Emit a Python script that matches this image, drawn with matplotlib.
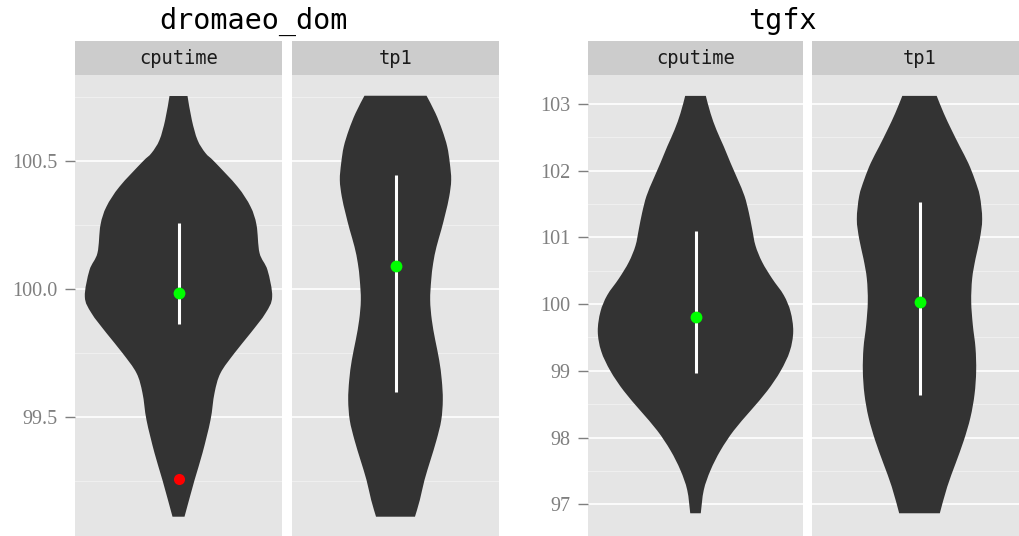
import matplotlib
matplotlib.use("Agg")
import matplotlib.pyplot as plt
from matplotlib.path import Path
from matplotlib.patches import PathPatch
import numpy as np

# ---------------- data ----------------
group_titles = ["dromaeo_dom", "tgfx"]
metric_names = ["cputime", "tp1"]

# violin outlines: y value and half width (fraction of half panel width)
dom_cpu_y = [100.755, 100.661, 100.583, 100.532, 100.498, 100.401, 100.323, 100.251,
             100.142, 100.075, 99.971, 99.907, 99.829, 99.751, 99.673, 99.595,
             99.489, 99.361, 99.255, 99.112]
dom_cpu_w = [0.087, 0.129, 0.184, 0.261, 0.348, 0.570, 0.696, 0.754,
             0.783, 0.860, 0.905, 0.841, 0.696, 0.541, 0.406, 0.348,
             0.309, 0.232, 0.155, 0.058]

dom_tp1_y = [100.756, 100.688, 100.622, 100.557, 100.492, 100.427, 100.362, 100.297,
             100.232, 100.166, 100.102, 100.036, 99.958, 99.880, 99.802, 99.724,
             99.646, 99.568, 99.489, 99.411, 99.333, 99.255, 99.177, 99.112]
dom_tp1_w = [0.300, 0.386, 0.451, 0.500, 0.525, 0.538, 0.519, 0.483,
             0.442, 0.396, 0.364, 0.345, 0.335, 0.351, 0.384, 0.422,
             0.447, 0.457, 0.442, 0.396, 0.338, 0.280, 0.235, 0.188]

tgfx_cpu_y = [103.119, 102.858, 102.610, 102.361, 102.115, 101.867, 101.619, 101.372,
              101.124, 100.876, 100.630, 100.382, 100.134, 99.887, 99.590, 99.293,
              98.996, 98.699, 98.402, 98.105, 97.808, 97.511, 97.214, 96.866]
tgfx_cpu_w = [0.096, 0.140, 0.195, 0.263, 0.326, 0.393, 0.456, 0.496,
              0.527, 0.558, 0.620, 0.713, 0.821, 0.884, 0.909, 0.877,
              0.791, 0.667, 0.512, 0.356, 0.233, 0.140, 0.077, 0.049]

tgfx_tp1_y = [103.119, 102.858, 102.610, 102.361, 102.115, 101.867, 101.619, 101.273,
              100.976, 100.679, 100.382, 100.036, 99.688, 99.342, 98.996, 98.648,
              98.302, 97.956, 97.609, 97.263, 96.866]
tgfx_tp1_w = [0.160, 0.226, 0.298, 0.375, 0.453, 0.514, 0.561, 0.583,
              0.561, 0.521, 0.490, 0.481, 0.496, 0.521, 0.527, 0.512,
              0.474, 0.412, 0.335, 0.258, 0.189]

# interval (low, high) and mean per panel
dom_cpu_interval = [99.864, 100.258]
dom_cpu_mean = 99.987
dom_cpu_baseline = 99.259      # red point
dom_tp1_interval = [99.598, 100.446]
dom_tp1_mean = 100.091
tgfx_cpu_interval = [98.966, 101.10]
tgfx_cpu_mean = 99.80
tgfx_tp1_interval = [98.64, 101.53]
tgfx_tp1_mean = 100.036

dom_ticks = [99.5, 100.0, 100.5]
dom_tick_labels = ["99.5", "100.0", "100.5"]
tgfx_ticks = [97, 98, 99, 100, 101, 102, 103]
tgfx_tick_labels = ["97", "98", "99", "100", "101", "102", "103"]

# ---------------- layout ----------------
W, H = 1019, 536
fig = plt.figure(figsize=(W / 100, H / 100), dpi=100)
fig.patch.set_facecolor("white")


def rect(x0, y0, x1, y1):
    return [x0 / W, 1 - y1 / H, (x1 - x0) / W, (y1 - y0) / H]


def smooth_side(xs, ys):
    """Bezier (Catmull-Rom) path pieces through the given outline points."""
    P = np.column_stack([xs, ys])
    n = len(P)
    verts, codes = [], []
    for i in range(n - 1):
        p0 = P[max(i - 1, 0)]
        p1 = P[i]
        p2 = P[i + 1]
        p3 = P[min(i + 2, n - 1)]
        c1 = p1 + (p2 - p0) / 6.0
        c2 = p2 - (p3 - p1) / 6.0
        verts += [tuple(c1), tuple(c2), tuple(p2)]
        codes += [Path.CURVE4] * 3
    return verts, codes


def violin_path(y, w):
    y = np.asarray(y)
    w = np.asarray(w)
    verts = [(w[0], y[0])]
    codes = [Path.MOVETO]
    v, c = smooth_side(w, y)              # right edge, top -> bottom
    verts += v
    codes += c
    verts.append((-w[-1], y[-1]))         # flat bottom
    codes.append(Path.LINETO)
    v, c = smooth_side(-w[::-1], y[::-1])  # left edge, bottom -> top
    verts += v
    codes += c
    verts.append((w[0], y[0]))            # flat top
    codes.append(Path.CLOSEPOLY)
    return Path(verts, codes)


PANEL_BG = "#e5e5e5"
STRIP_BG = "#cccccc"
VIOLIN = "#333333"
AXIS_GREY = "#7f7f7f"
TICK_FONT = ["Liberation Serif", "DejaVu Serif"]
MONO = "DejaVu Sans Mono"

panels = [
    dict(box=(75, 75, 282, 537.7), y=dom_cpu_y, w=dom_cpu_w, iv=dom_cpu_interval,
         mean=dom_cpu_mean, red=dom_cpu_baseline, ylim=(99.030, 100.837),
         ticks=dom_ticks, labels=dom_tick_labels, minor=[99.25, 99.75, 100.25, 100.75],
         show_y=True, name=metric_names[0]),
    dict(box=(292, 75, 499, 537.7), y=dom_tp1_y, w=dom_tp1_w, iv=dom_tp1_interval,
         mean=dom_tp1_mean, red=None, ylim=(99.030, 100.837),
         ticks=dom_ticks, labels=dom_tick_labels, minor=[99.25, 99.75, 100.25, 100.75],
         show_y=False, name=metric_names[1]),
    dict(box=(588, 75, 803, 537.7), y=tgfx_cpu_y, w=tgfx_cpu_w, iv=tgfx_cpu_interval,
         mean=tgfx_cpu_mean, red=None, ylim=(96.553, 103.432),
         ticks=tgfx_ticks, labels=tgfx_tick_labels,
         minor=[96.5, 97.5, 98.5, 99.5, 100.5, 101.5, 102.5],
         show_y=True, name=metric_names[0]),
    dict(box=(812, 75, 1027, 537.7), y=tgfx_tp1_y, w=tgfx_tp1_w, iv=tgfx_tp1_interval,
         mean=tgfx_tp1_mean, red=None, ylim=(96.553, 103.432),
         ticks=tgfx_ticks, labels=tgfx_tick_labels,
         minor=[96.5, 97.5, 98.5, 99.5, 100.5, 101.5, 102.5],
         show_y=False, name=metric_names[1]),
]

for p in panels:
    x0, y0, x1, y1 = p["box"]
    ax = fig.add_axes(rect(x0, y0, x1, y1))
    ax.set_facecolor(PANEL_BG)
    for s in ax.spines.values():
        s.set_visible(False)
    ax.set_xlim(-1, 1)
    ax.set_ylim(*p["ylim"])
    ax.set_xticks([])
    ax.set_yticks(p["ticks"])
    ax.set_yticks(p["minor"], minor=True)
    ax.grid(True, which="major", axis="y", color="white", lw=1.2)
    ax.grid(True, which="minor", axis="y", color="#f2f2f2", lw=0.6)
    ax.set_axisbelow(True)
    if p["show_y"]:
        ax.set_yticklabels(p["labels"], fontfamily=TICK_FONT, fontsize=14.5,
                           color=AXIS_GREY)
        ax.tick_params(axis="y", which="major", length=7.5, width=1.0,
                       color=AXIS_GREY, pad=5)
    else:
        ax.tick_params(axis="y", which="major", length=0, labelleft=False)
    ax.tick_params(axis="y", which="minor", length=0)

    ax.add_patch(PathPatch(violin_path(p["y"], p["w"]), facecolor=VIOLIN,
                           edgecolor="none", zorder=2))
    ax.plot([0, 0], p["iv"], color="white", lw=2.2, solid_capstyle="butt", zorder=3)
    ax.plot([0], [p["mean"]], "o", color="#00ff00", ms=8.5, mec="none", zorder=4)
    if p["red"] is not None:
        ax.plot([0], [p["red"]], "o", color="#ff0000", ms=8.0, mec="none", zorder=4)

    sax = fig.add_axes(rect(x0, 41, x1, 75))
    sax.set_facecolor(STRIP_BG)
    sax.set_xticks([])
    sax.set_yticks([])
    for s in sax.spines.values():
        s.set_visible(False)
    sax.text(0.5, 0.5, p["name"], ha="center", va="center", fontfamily=MONO,
             fontsize=13.5, color="#1a1a1a", transform=sax.transAxes)

fig.text(253 / W, 1 - 21 / H, group_titles[0], ha="center", va="center",
         fontfamily=MONO, fontsize=20.5, color="black")
fig.text(782 / W, 1 - 21 / H, group_titles[1], ha="center", va="center",
         fontfamily=MONO, fontsize=20.5, color="black")

fig.savefig("out.png", dpi=100)
